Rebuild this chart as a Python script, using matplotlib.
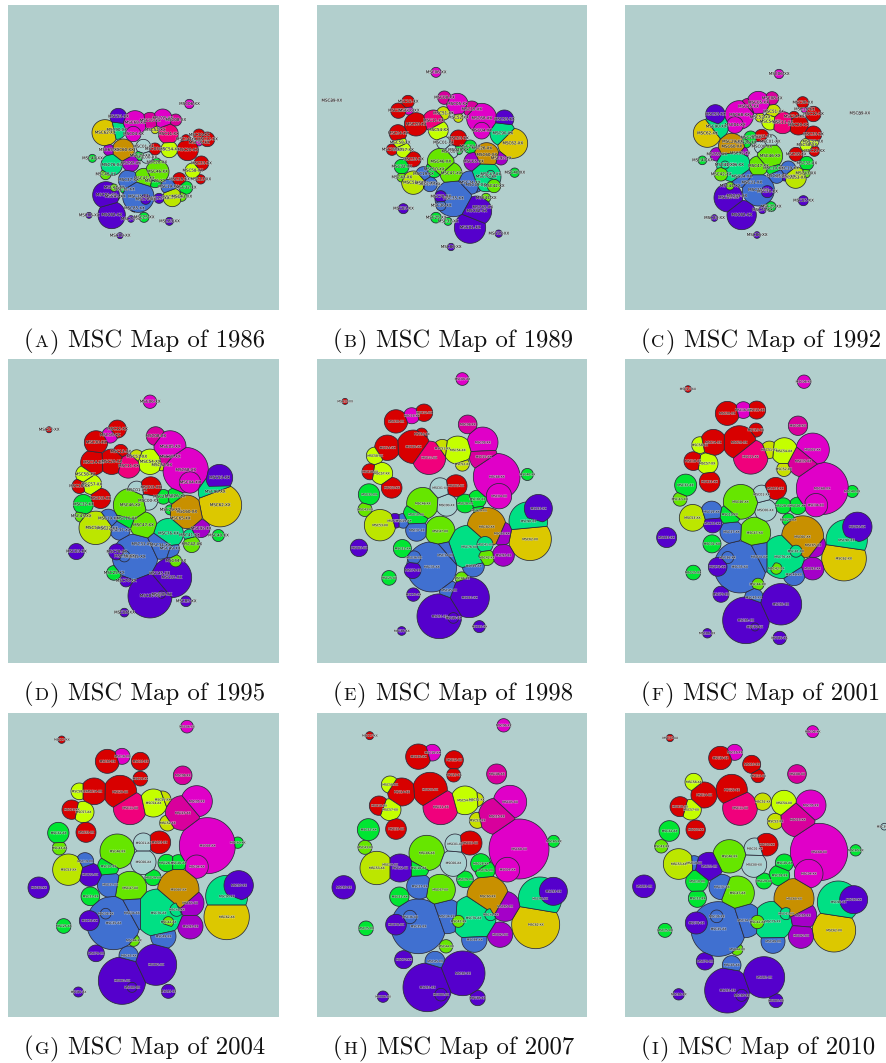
#!/usr/bin/env python3
import matplotlib
matplotlib.use('Agg')
import matplotlib.pyplot as plt
import matplotlib.patheffects as pe
from matplotlib.patches import Polygon
import numpy as np

bg_col = '#b2cfcd'
group_cols = {
    '#e000c8': ['68', '05', '16', '06', '04'],
    '#d8009c': ['15', '08'],
    '#f0007c': ['11'],
    '#d80000': ['03', '12', '13', '14', '17', '18', '20', '30', '33'],
    '#c4ff00': ['54', '57', '58'],
    '#c8e000': ['51', '52'],
    '#bce600': ['53'],
    '#66e600': ['46', '47', '42', '43', '44'],
    '#00e632': ['32', '31', '26', '28', '29', '10', '40', '25'],
    '#00e084': ['76', '90', '41'],
    '#dcc800': ['62'],
    '#c89000': ['60'],
    '#a400c8': ['65', '92'],
    '#5500cc': ['22', '70', '78', '80', '81', '82', '83', '85', '86', '93'],
    '#4070d0': ['34', '35', '36', '37', '45', '49', '19'],
    '#a8d0d0': ['00', '01', '39'],
}
msc_col = {c: k for k, v in group_cols.items() for c in v}
# these sit whole on top of the circle that holds their centre
on_top = ['04', '93', '80', '36', '78', '41', '42', '44']

# (msc code, x, y, radius), map units
map_1986 = [('93', 355, 350, 25), ('90', 350, 390, 28), ('62', 315, 398, 39), ('60', 370, 450, 33),
            ('65', 327, 450, 17), ('68', 405, 368, 36), ('04', 400, 402, 23), ('15', 450, 362, 25),
            ('05', 488, 355, 28), ('08', 527, 360, 18), ('06', 568, 312, 14), ('52', 465, 390, 11),
            ('11', 505, 402, 30), ('03', 465, 447, 18), ('01', 430, 440, 22), ('00', 440, 472, 18),
            ('54', 508, 448, 25), ('20', 563, 450, 32), ('14', 558, 418, 14), ('30', 597, 405, 18),
            ('12', 622, 418, 22), ('16', 597, 428, 10), ('33', 604, 490, 22), ('58', 578, 512, 23),
            ('18', 538, 538, 20), ('13', 602, 538, 14), ('76', 335, 495, 32), ('92', 392, 490, 25),
            ('29', 420, 467, 15), ('47', 432, 535, 30), ('46', 472, 515, 35), ('28', 470, 487, 13),
            ('26', 465, 543, 20), ('42', 317, 523, 16), ('37', 385, 540, 30), ('35', 415, 590, 47),
            ('53', 517, 592, 28), ('19', 505, 560, 22), ('32', 558, 563, 20), ('43', 545, 590, 14),
            ('22', 477, 595, 15), ('44', 342, 563, 11), ('81', 318, 585, 40), ('82', 335, 645, 41),
            ('45', 345, 590, 14), ('31', 373, 568, 12), ('78', 437, 598, 15), ('85', 403, 625, 11),
            ('70', 393, 657, 10), ('25', 432, 652, 15), ('83', 508, 664, 12), ('86', 267, 646, 9),
            ('40', 277, 475, 12), ('80', 360, 707, 9)]

map_1989 = [('06', 378, 217, 15), ('39', 65, 302, 2), ('08', 403, 293, 20), ('05', 442, 312, 32),
            ('15', 485, 328, 25), ('68', 515, 355, 45), ('04', 515, 392, 25), ('93', 583, 358, 28),
            ('90', 578, 400, 38), ('62', 608, 430, 45), ('60', 530, 465, 37), ('65', 490, 485, 28),
            ('92', 573, 475, 20), ('40', 614, 518, 14), ('11', 370, 362, 32), ('20', 318, 373, 35),
            ('14', 264, 400, 26), ('30', 265, 332, 23), ('16', 297, 332, 13), ('12', 294, 305, 19),
            ('54', 385, 390, 30), ('51', 400, 340, 20), ('52', 445, 353, 14), ('03', 445, 415, 25),
            ('01', 400, 428, 20), ('00', 425, 455, 20), ('29', 445, 450, 14), ('28', 480, 440, 20),
            ('26', 515, 445, 10), ('58', 270, 428, 20), ('57', 280, 450, 23), ('18', 246, 449, 17),
            ('33', 310, 478, 23), ('32', 275, 500, 22), ('43', 275, 532, 14), ('46', 392, 485, 40),
            ('10', 372, 508, 25), ('47', 423, 520, 33), ('19', 340, 522, 22), ('53', 310, 548, 35),
            ('37', 360, 553, 22), ('22', 345, 550, 15), ('76', 528, 530, 45), ('41', 542, 523, 12),
            ('42', 552, 558, 20), ('34', 480, 548, 35), ('49', 497, 555, 22), ('35', 430, 595, 55),
            ('78', 392, 590, 18), ('36', 393, 617, 15), ('44', 528, 594, 14), ('82', 500, 633, 45),
            ('81', 480, 683, 47), ('45', 518, 622, 20), ('25', 378, 653, 16), ('31', 414, 664, 12),
            ('83', 280, 626, 15), ('86', 423, 741, 11), ('85', 566, 701, 11)]

map_1992 = [('06', 477, 222, 14), ('39', 719, 340, 3), ('08', 456, 295, 20), ('05', 415, 308, 34),
            ('15', 385, 320, 25), ('68', 358, 345, 43), ('04', 345, 375, 25), ('93', 286, 343, 29),
            ('90', 288, 380, 38), ('62', 262, 400, 42), ('60', 335, 440, 40), ('65', 290, 463, 20),
            ('92', 360, 460, 25), ('40', 247, 481, 13), ('76', 340, 495, 50), ('41', 315, 495, 12),
            ('42', 303, 523, 20), ('54', 450, 365, 25), ('51', 460, 335, 22), ('52', 420, 352, 14),
            ('11', 488, 368, 33), ('20', 535, 375, 30), ('14', 522, 350, 16), ('30', 548, 308, 18),
            ('16', 553, 328, 10), ('12', 580, 342, 23), ('33', 580, 403, 25), ('58', 560, 435, 20),
            ('57', 578, 425, 18), ('13', 583, 453, 16), ('18', 528, 463, 21), ('32', 560, 490, 21),
            ('43', 557, 520, 14), ('53', 527, 533, 32), ('19', 505, 505, 22), ('22', 495, 530, 13),
            ('37', 470, 528, 22), ('03', 425, 410, 22), ('01', 450, 425, 22), ('00', 425, 440, 22),
            ('28', 392, 413, 20), ('26', 378, 428, 16), ('29', 337, 425, 8), ('46', 450, 468, 38),
            ('47', 415, 498, 30), ('10', 460, 505, 22), ('34', 365, 530, 32), ('35', 415, 570, 48),
            ('78', 442, 575, 18), ('44', 330, 558, 12), ('31', 395, 548, 10), ('81', 325, 593, 43),
            ('45', 350, 588, 14), ('82', 365, 645, 44), ('85', 550, 602, 15), ('25', 453, 620, 15),
            ('70', 427, 630, 11), ('83', 283, 654, 10), ('86', 411, 705, 10)]

map_1995 = [('06', 450, 140, 20), ('17', 147, 224, 9), ('12', 352, 222, 27), ('16', 330, 240, 24),
            ('30', 288, 262, 35), ('08', 467, 243, 28), ('05', 510, 275, 48), ('15', 510, 305, 38),
            ('68', 557, 345, 68), ('04', 570, 382, 32), ('93', 658, 368, 40), ('90', 645, 410, 50),
            ('62', 660, 450, 65), ('60', 560, 470, 50), ('65', 540, 490, 25), ('92', 603, 520, 27),
            ('40', 655, 541, 18), ('14', 280, 322, 38), ('20', 335, 320, 38), ('13', 362, 290, 22),
            ('11', 385, 333, 36), ('51', 410, 305, 21), ('54', 450, 320, 38), ('52', 485, 330, 17),
            ('58', 255, 358, 28), ('57', 275, 388, 30), ('18', 238, 393, 22), ('33', 302, 430, 30),
            ('32', 250, 448, 30), ('43', 243, 483, 18), ('53', 287, 518, 50), ('19', 325, 490, 28),
            ('10', 380, 490, 32), ('46', 390, 450, 50), ('47', 430, 510, 40), ('37', 360, 525, 30),
            ('22', 322, 520, 18), ('01', 410, 405, 27), ('03', 452, 397, 32), ('00', 445, 437, 28),
            ('28', 490, 425, 22), ('26', 525, 423, 25), ('29', 510, 464, 15), ('76', 505, 535, 45),
            ('41', 568, 540, 18), ('42', 575, 567, 25), ('34', 480, 570, 42), ('49', 510, 580, 28),
            ('35', 405, 605, 68), ('78', 350, 590, 24), ('36', 373, 603, 17), ('31', 425, 567, 12),
            ('44', 527, 617, 18), ('82', 515, 667, 60), ('45', 478, 655, 20), ('81', 450, 722, 66),
            ('80', 485, 718, 11), ('85', 558, 738, 16), ('25', 342, 653, 22), ('70', 378, 677, 18),
            ('83', 229, 589, 24), ('86', 373, 772, 13)]

map_1998 = [('06', 457, 72, 19), ('17', 105, 139, 9), ('30', 258, 199, 35), ('16', 305, 182, 24),
            ('12', 342, 173, 26), ('13', 335, 237, 18), ('08', 473, 208, 28), ('05', 518, 262, 46),
            ('15', 520, 305, 42), ('68', 560, 365, 70), ('04', 567, 423, 38), ('40', 652, 358, 18),
            ('93', 685, 460, 42), ('90', 655, 498, 58), ('62', 660, 552, 64), ('60', 530, 515, 58),
            ('65', 575, 535, 35), ('92', 580, 600, 33), ('14', 232, 278, 38), ('20', 310, 275, 50),
            ('11', 357, 308, 50), ('51', 397, 280, 27), ('54', 443, 285, 42), ('52', 457, 327, 21),
            ('58', 195, 302, 26), ('57', 215, 355, 33), ('18', 180, 350, 24), ('33', 245, 398, 31),
            ('32', 177, 418, 32), ('43', 165, 463, 21), ('53', 210, 510, 47), ('22', 255, 497, 22),
            ('19', 280, 497, 22), ('10', 318, 478, 38), ('46', 338, 445, 48), ('47', 390, 528, 45),
            ('37', 320, 525, 33), ('01', 390, 398, 30), ('03', 438, 392, 33), ('00', 410, 450, 33),
            ('28', 465, 445, 28), ('26', 502, 432, 27), ('29', 507, 466, 17), ('76', 477, 575, 65),
            ('41', 525, 568, 24), ('42', 530, 607, 24), ('49', 490, 632, 33), ('34', 405, 600, 45),
            ('35', 365, 635, 75), ('78', 308, 645, 25), ('36', 312, 607, 20), ('31', 277, 580, 27),
            ('25', 237, 668, 22), ('44', 455, 669, 19), ('70', 310, 718, 20), ('45', 417, 705, 29),
            ('82', 478, 727, 60), ('81', 388, 783, 67), ('80', 430, 788, 16), ('85', 508, 814, 18),
            ('83', 147, 578, 26), ('86', 275, 827, 13)]

map_2001 = [('06', 552, 80, 20), ('17', 204, 102, 10), ('30', 322, 175, 36), ('16', 370, 165, 25),
            ('12', 410, 165, 27), ('13', 408, 225, 21), ('08', 534, 212, 29), ('05', 578, 284, 50),
            ('15', 550, 318, 48), ('68', 607, 400, 78), ('04', 588, 450, 35), ('40', 697, 409, 18),
            ('93', 712, 515, 44), ('90', 680, 555, 62), ('62', 672, 610, 67), ('60', 548, 545, 63),
            ('65', 580, 570, 37), ('92', 578, 640, 34), ('41', 528, 588, 18), ('76', 488, 605, 65),
            ('42', 469, 640, 17), ('49', 522, 658, 33), ('14', 280, 262, 39), ('58', 240, 270, 25),
            ('20', 358, 262, 50), ('11', 392, 305, 52), ('51', 448, 284, 26), ('54', 493, 288, 40),
            ('52', 492, 342, 22), ('18', 220, 318, 28), ('57', 262, 325, 32), ('33', 269, 380, 31),
            ('32', 197, 390, 33), ('43', 180, 432, 21), ('53', 218, 488, 40), ('19', 275, 470, 32),
            ('22', 278, 505, 28), ('10', 330, 478, 32), ('46', 362, 440, 52), ('47', 405, 533, 47),
            ('37', 335, 530, 35), ('01', 425, 418, 28), ('03', 467, 400, 33), ('00', 437, 465, 33),
            ('28', 490, 452, 24), ('26', 533, 452, 26), ('29', 505, 494, 19), ('31', 276, 566, 27),
            ('34', 418, 605, 50), ('35', 360, 635, 78), ('78', 293, 635, 28), ('36', 323, 607, 18),
            ('25', 220, 652, 22), ('44', 414, 687, 18), ('70', 303, 717, 24), ('45', 402, 727, 28),
            ('82', 483, 747, 62), ('81', 378, 795, 70), ('80', 405, 815, 12), ('85', 479, 848, 20),
            ('83', 140, 547, 30), ('86', 262, 834, 14)]

map_2004 = [('06', 561, 56, 19), ('17', 185, 95, 11), ('30', 322, 160, 36), ('16', 366, 145, 24),
            ('12', 421, 160, 27), ('13', 421, 212, 22), ('08', 548, 202, 28), ('05', 590, 280, 47),
            ('15', 548, 315, 52), ('68', 622, 413, 84), ('04', 590, 476, 35), ('40', 713, 404, 17),
            ('93', 716, 532, 44), ('90', 680, 565, 63), ('62', 680, 627, 68), ('60', 535, 545, 62),
            ('65', 570, 585, 42), ('92', 571, 655, 38), ('41', 530, 605, 20), ('76', 475, 615, 72),
            ('42', 505, 642, 16), ('49', 490, 685, 38), ('14', 282, 250, 40), ('58', 238, 250, 25),
            ('20', 360, 252, 50), ('11', 390, 300, 50), ('54', 460, 285, 42), ('51', 487, 275, 26),
            ('52', 503, 345, 24), ('18', 215, 305, 29), ('57', 250, 312, 32), ('33', 258, 373, 30),
            ('32', 175, 375, 32), ('43', 178, 420, 21), ('53', 205, 485, 47), ('19', 255, 460, 26),
            ('22', 270, 500, 35), ('10', 325, 475, 32), ('46', 352, 430, 52), ('47', 390, 540, 50),
            ('37', 330, 530, 38), ('01', 430, 405, 30), ('03', 478, 403, 34), ('00', 430, 462, 38),
            ('28', 500, 465, 26), ('26', 535, 465, 25), ('29', 459, 509, 24), ('31', 271, 565, 28),
            ('34', 395, 615, 55), ('35', 340, 645, 80), ('78', 268, 638, 30), ('36', 317, 617, 16),
            ('25', 191, 654, 22), ('44', 401, 697, 18), ('70', 288, 736, 25), ('45', 386, 743, 29),
            ('82', 468, 770, 62), ('81', 366, 818, 71), ('80', 396, 838, 15), ('85', 505, 850, 21),
            ('83', 116, 539, 32), ('86', 235, 852, 15)]

map_2007 = [('06', 581, 52, 20), ('17', 179, 83, 12), ('30', 325, 146, 38), ('16', 367, 134, 25),
            ('12', 432, 156, 28), ('13', 431, 201, 21), ('08', 560, 198, 30), ('05', 600, 282, 50),
            ('15', 560, 325, 55), ('68', 627, 423, 90), ('04', 592, 485, 37), ('40', 731, 400, 18),
            ('93', 730, 550, 42), ('90', 690, 572, 65), ('62', 677, 650, 72), ('60', 533, 565, 62),
            ('65', 585, 595, 45), ('92', 570, 680, 38), ('41', 542, 620, 18), ('76', 490, 630, 68),
            ('42', 445, 640, 18), ('49', 493, 695, 38), ('14', 275, 252, 42), ('58', 240, 230, 26),
            ('20', 360, 245, 52), ('11', 392, 297, 53), ('54', 465, 277, 43), ('51', 500, 275, 21),
            ('52', 502, 337, 24), ('18', 207, 293, 29), ('57', 240, 305, 33), ('33', 258, 363, 31),
            ('32', 175, 365, 33), ('43', 165, 418, 21), ('53', 200, 480, 50), ('19', 240, 470, 20),
            ('22', 270, 480, 42), ('10', 325, 480, 32), ('46', 350, 435, 53), ('47', 390, 545, 46),
            ('37', 328, 535, 38), ('01', 435, 408, 30), ('03', 480, 405, 36), ('00', 430, 465, 40),
            ('28', 512, 467, 30), ('26', 525, 487, 30), ('29', 465, 514, 25), ('31', 268, 566, 29),
            ('34', 410, 625, 52), ('35', 325, 655, 82), ('78', 258, 650, 31), ('36', 300, 627, 20),
            ('25', 168, 661, 22), ('44', 408, 715, 20), ('70', 281, 755, 27), ('45', 375, 760, 30),
            ('82', 458, 796, 67), ('81', 352, 838, 73), ('80', 393, 860, 19), ('85', 503, 870, 23),
            ('83', 101, 538, 35), ('86', 219, 866, 17)]

map_2010 = [('68', 597, 432, 86), ('05', 572, 292, 46), ('15', 533, 335, 52), ('04', 566, 497, 43),
            ('54', 492, 285, 38), ('51', 428, 281, 26), ('52', 466, 340, 24), ('11', 360, 300, 52),
            ('20', 335, 246, 47), ('14', 252, 261, 39), ('58', 221, 222, 26), ('18', 180, 296, 30),
            ('57', 213, 305, 31), ('30', 301, 150, 35), ('16', 344, 133, 24), ('12', 395, 169, 27),
            ('13', 414, 204, 20), ('08', 531, 198, 28), ('06', 578, 71, 18), ('17', 150, 90, 11),
            ('32', 148, 369, 31), ('43', 124, 415, 20), ('33', 227, 365, 29), ('53', 176, 468, 46),
            ('19', 222, 465, 22), ('22', 267, 475, 42), ('46', 328, 445, 50), ('01', 404, 422, 32),
            ('03', 440, 410, 34), ('00', 402, 470, 38), ('26', 493, 465, 27), ('28', 478, 502, 31),
            ('29', 432, 519, 24), ('10', 231, 520, 34), ('31', 232, 571, 27), ('37', 305, 537, 38),
            ('47', 352, 555, 51), ('83', 72, 535, 34), ('25', 135, 667, 21), ('40', 707, 427, 17),
            ('35', 295, 663, 82), ('78', 229, 645, 33), ('36', 290, 625, 19), ('34', 375, 637, 52),
            ('76', 458, 640, 60), ('42', 412, 642, 20), ('49', 459, 700, 36), ('60', 522, 572, 60),
            ('41', 498, 617, 18), ('65', 548, 622, 42), ('92', 543, 683, 38), ('62', 642, 667, 65),
            ('90', 655, 582, 63), ('93', 701, 575, 42), ('44', 351, 724, 18), ('70', 255, 760, 26),
            ('45', 335, 771, 28), ('81', 322, 847, 68), ('82', 432, 808, 62), ('80', 365, 862, 18),
            ('85', 468, 878, 21), ('86', 176, 859, 17), ('39', 793, 356, 10)]

years = ['1986', '1989', '1992', '1995', '1998', '2001', '2004', '2007', '2010']
letters = ['A', 'B', 'C', 'D', 'E', 'F', 'G', 'H', 'I']
maps = [map_1986, map_1989, map_1992, map_1995, map_1998, map_2001, map_2004, map_2007, map_2010]
lblsz = [2.9, 2.9, 2.9, 2.9, 2.2, 2.3, 2.2, 2.2, 2.2]

# panel boxes in picture pixels, and the same box in map units
col_px = [(8, 279), (317, 587), (625, 886)]
row_px = [(5, 310), (359, 663), (713, 1017)]
col_map = [(24, 837), (21, 831), (15, 798)]
row_map = [(15, 930), (12, 923), (15, 927)]
W, H = 886, 1063


def clip_half(poly, nrm, lim):
    # keep the part of poly with nrm.p <= lim
    out = []
    for i in range(len(poly)):
        a, b = poly[i], poly[(i + 1) % len(poly)]
        da, db = nrm @ a - lim, nrm @ b - lim
        if da <= 0:
            out.append(a)
        if da * db < 0:
            out.append(a + (b - a) * da / (da - db))
    return np.array(out)


def sits_on(small, big):
    # small circle drawn whole over a bigger one
    d = np.hypot(small[1] - big[1], small[2] - big[2])
    return small[0] in on_top and small[3] < big[3] and d < big[3]


def cell(i, circles):
    # circle i cut by the radical lines to the circles it overlaps
    _, x, y, r = circles[i]
    t = np.linspace(0, 2 * np.pi, 160, endpoint=False)
    poly = np.column_stack([x + r * np.cos(t), y + r * np.sin(t)])
    a = np.array([x, y], dtype=float)
    for j, (_, x2, y2, r2) in enumerate(circles):
        if j == i:
            continue
        b = np.array([x2, y2], dtype=float)
        d = np.hypot(*(b - a))
        if d >= r + r2 or sits_on(circles[i], circles[j]) or sits_on(circles[j], circles[i]):
            continue
        poly = clip_half(poly, 2 * (b - a), b @ b - a @ a + r ** 2 - r2 ** 2)
        if len(poly) == 0:
            break
    return poly


def draw_map(ax, circles, fsz):
    ax.set_facecolor(bg_col)
    order = sorted(range(len(circles)), key=lambda k: -circles[k][3])
    for i in order:
        poly = cell(i, circles)
        if len(poly) > 2:
            ax.add_patch(Polygon(poly, closed=True, facecolor=msc_col[circles[i][0]],
                                 edgecolor='#2a2a3a', linewidth=0.55))
    for code, x, y, r in circles:
        ax.text(x, y, f'MSC{code}-XX', fontsize=fsz, ha='center', va='center', color='#101010',
                clip_on=True, path_effects=[pe.withStroke(linewidth=0.6, foreground='#e8e8e8', alpha=0.55)])


def caption(fig, x, y, letter, year):
    # small-caps letter between parentheses, then the rest in the text size
    rnd = fig.canvas.get_renderer()
    parts = [('(', 17.8), (letter, 13.2), (')', 17.8), (f'MSC Map of {year}', 17.8)]
    for txt, sz in parts:
        if txt.startswith('MSC'):
            x += 8
        t = fig.text(x / W, 1 - y / H, txt, fontsize=sz, family='cmr10', ha='left', va='baseline', color='#111111')
        x = t.get_window_extent(rnd).x1 + 1


fig = plt.figure(figsize=(W / 100, H / 100), dpi=100)
for n, circles in enumerate(maps):
    cl, rw = n % 3, n // 3
    x0, x1 = col_px[cl]
    y0, y1 = row_px[rw]
    ax = fig.add_axes([x0 / W, 1 - y1 / H, (x1 - x0) / W, (y1 - y0) / H])
    ax.set_xlim(*col_map[cl])
    ax.set_ylim(row_map[rw][1], row_map[rw][0])
    ax.set_xticks([])
    ax.set_yticks([])
    for s in ax.spines.values():
        s.set_visible(False)
    draw_map(ax, circles, lblsz[n])
    caption(fig, x0 + 16, y1 + 37, letters[n], years[n])

fig.savefig('out.png', dpi=100)
